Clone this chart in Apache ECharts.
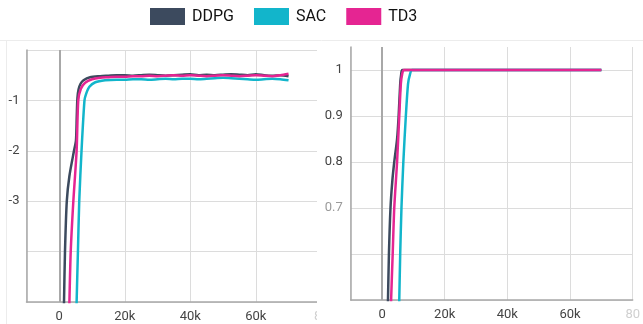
<!DOCTYPE html>
<html>
<head>
<meta charset="utf-8">
<script src="https://cdn.jsdelivr.net/npm/echarts@6/dist/echarts.min.js"></script>
<style>
html,body{margin:0;padding:0;background:#fff;}
#chart{width:643px;height:324px;}
</style>
</head>
<body>
<div id="chart"></div>
<script>
// ---- data ----
const seriesNames = ['DDPG', 'SAC', 'TD3'];
const seriesColors = ['#3c4a5e', '#12b5cb', '#e52592'];

// left panel: episode reward
const ddpgRewardSteps = [1150, 1450, 1750, 2300, 3100, 4500, 5100, 5350, 5550, 5900, 6500, 7400, 9400, 12500, 15000, 17500, 20000, 22500, 25000, 27500, 30000, 32500, 35000, 37500, 40000, 42500, 45000, 47500, 50000, 52500, 55000, 57500, 60000, 62500, 65000, 67500, 70000];
const ddpgRewardValues = [-6, -5, -4, -3, -2.5, -2, -1.8, -1.3, -0.95, -0.78, -0.67, -0.6, -0.54, -0.52, -0.51, -0.5, -0.5, -0.51, -0.5, -0.49, -0.5, -0.51, -0.5, -0.49, -0.48, -0.5, -0.49, -0.5, -0.49, -0.48, -0.49, -0.5, -0.48, -0.5, -0.51, -0.5, -0.52];

const sacRewardSteps = [5000, 5300, 5700, 6100, 6800, 7700, 8200, 9200, 11000, 14000, 17500, 20000, 22500, 25000, 27500, 30000, 32500, 35000, 37500, 40000, 42500, 45000, 47500, 50000, 52500, 55000, 57500, 60000, 62500, 65000, 67500, 70000];
const sacRewardValues = [-6, -5, -4, -3, -2, -1, -0.87, -0.73, -0.64, -0.6, -0.59, -0.59, -0.58, -0.58, -0.59, -0.58, -0.57, -0.58, -0.57, -0.57, -0.58, -0.57, -0.56, -0.55, -0.56, -0.57, -0.58, -0.59, -0.58, -0.57, -0.58, -0.6];

const td3RewardSteps = [2800, 3100, 3500, 4300, 5300, 5800, 6600, 7900, 10000, 12500, 15000, 17500, 20000, 22500, 25000, 27500, 30000, 32500, 35000, 37500, 40000, 42500, 45000, 47500, 50000, 52500, 55000, 57500, 60000, 62500, 65000, 67500, 70000];
const td3RewardValues = [-6, -5, -4, -3, -2, -1, -0.77, -0.65, -0.58, -0.55, -0.54, -0.53, -0.53, -0.52, -0.52, -0.51, -0.52, -0.51, -0.5, -0.51, -0.5, -0.51, -0.52, -0.51, -0.5, -0.51, -0.52, -0.51, -0.5, -0.51, -0.52, -0.5, -0.47];

// right panel: success rate
const ddpgSuccessSteps = [1600, 1900, 2200, 2700, 3300, 3900, 4800, 5300, 5800, 6100, 6500, 70000];
const ddpgSuccessValues = [0.4, 0.5, 0.6, 0.7, 0.76, 0.8, 0.85, 0.9, 0.97, 0.99, 1.0, 1.0];

const sacSuccessSteps = [5200, 5500, 5800, 6200, 6800, 7600, 8300, 8900, 9600, 70000];
const sacSuccessValues = [0.4, 0.5, 0.6, 0.7, 0.8, 0.9, 0.97, 0.99, 1.0, 1.0];

const td3SuccessSteps = [2600, 2900, 3400, 3900, 4800, 5500, 6000, 6400, 7000, 70000];
const td3SuccessValues = [0.4, 0.5, 0.6, 0.7, 0.8, 0.9, 0.97, 0.99, 1.0, 1.0];

// tick labels (the 80k label is cut off at the panel edge in the reference)
const xTickValues = [0, 20000, 40000, 60000, 80000];
const xTickLabels = ['0', '20k', '40k', '60k', '80'];
const rewardTickValues = [-1, -2, -3];
const rewardTickLabels = ['-1', '-2', '-3'];
const successTickValues = [1, 0.9, 0.8, 0.7];
const successTickLabels = ['1', '0.9', '0.8', '0.7'];

// ---- build ----
function pairs(xs, ys) { return xs.map((x, i) => [x, ys[i]]); }

function xLabel(v) {
  const i = xTickValues.indexOf(Math.round(v));
  if (i < 0) return '';
  return i === xTickValues.length - 1 ? '{faint|' + xTickLabels[i] + '}' : xTickLabels[i];
}
function findLabel(values, labels, v) {
  for (let i = 0; i < values.length; i++) if (Math.abs(values[i] - v) < 1e-6) return labels[i];
  return '';
}

const gridLine = { show: true, lineStyle: { color: '#dcdcdc', width: 1 } };
const axisLine = { show: true, onZero: false, lineStyle: { color: '#a8a8a8', width: 1.5 } };
const labelFont = { color: '#444', fontSize: 13, fontFamily: 'Roboto' };

function xAxis(gridIndex) {
  return {
    type: 'value', gridIndex: gridIndex, min: -10000, max: 80000, splitNumber: 5,
    axisLine: axisLine, axisTick: { show: false }, splitLine: gridLine,
    axisLabel: Object.assign({}, labelFont, {
      margin: 8, formatter: xLabel, showMinLabel: true, showMaxLabel: true,
      alignMaxLabel: 'center',
      rich: { faint: { color: '#d0d0d0', fontSize: 13, fontFamily: 'Roboto' } }
    })
  };
}

const zeroMark = {
  silent: true, symbol: ['none', 'none'], animation: false,
  label: { show: false },
  lineStyle: { color: '#a8a8a8', type: 'solid', width: 2 },
  emphasis: { disabled: true },
  data: [{ xAxis: 0 }]
};

function line(name, idx, xi, yi, data, withMark) {
  const s = {
    name: name, type: 'line', xAxisIndex: xi, yAxisIndex: yi,
    data: data, showSymbol: false, symbol: 'none', smooth: 0.25,
    lineStyle: { color: seriesColors[idx], width: 2.5 },
    itemStyle: { color: seriesColors[idx] },
    clip: true, z: 3 + idx, animation: false
  };
  if (withMark) s.markLine = zeroMark;
  return s;
}

const option = {
  animation: false,
  backgroundColor: '#fff',
  legend: {
    left: 145, top: 3, itemWidth: 35, itemHeight: 17, itemGap: 20,
    icon: 'rect',
    data: seriesNames,
    textStyle: { fontSize: 16, color: '#111', fontFamily: 'Roboto', padding: [0, 0, 0, 2] }
  },
  grid: [
    { left: 26.5, top: 50, width: 294.8, height: 252 },
    { left: 350.7, top: 47, width: 289.3, height: 253 }
  ],
  xAxis: [xAxis(0), xAxis(1)],
  yAxis: [
    {
      type: 'value', gridIndex: 0, min: -5, max: 0, interval: 1,
      axisLine: axisLine, axisTick: { show: false }, splitLine: gridLine,
      axisLabel: Object.assign({}, labelFont, { margin: 7, formatter: v => findLabel(rewardTickValues, rewardTickLabels, v) })
    },
    {
      type: 'value', gridIndex: 1, min: 0.5, max: 1.05, interval: 0.1,
      axisLine: axisLine, axisTick: { show: false },
      splitLine: Object.assign({ showMaxLine: false }, gridLine),
      axisLabel: Object.assign({}, labelFont, {
        margin: 8, showMaxLabel: false,
        formatter: v => {
          const t = findLabel(successTickValues, successTickLabels, Math.round(v * 100) / 100);
          return t === '0.7' ? '{light|0.7}' : t;
        },
        rich: { light: { color: '#9a9a9a', fontSize: 13, fontFamily: 'Roboto' } }
      })
    }
  ],
  graphic: [
    { type: 'line', shape: { x1: 0, y1: 40.5, x2: 643, y2: 40.5 }, style: { stroke: '#ececec', lineWidth: 1 }, z: 0 },
    { type: 'line', shape: { x1: 6.5, y1: 40, x2: 6.5, y2: 324 }, style: { stroke: '#ececec', lineWidth: 1 }, z: 0 },
    { type: 'rect', shape: { x: 317, y: 44, width: 5.5, height: 261 }, style: { fill: '#fff' }, z: 100 },
    { type: 'rect', shape: { x: 317, y: 305, width: 17, height: 19 }, style: { fill: '#fff' }, z: 100 }
  ],
  series: [
    line('DDPG', 0, 0, 0, pairs(ddpgRewardSteps, ddpgRewardValues), true),
    line('SAC', 1, 0, 0, pairs(sacRewardSteps, sacRewardValues), false),
    line('TD3', 2, 0, 0, pairs(td3RewardSteps, td3RewardValues), false),
    line('DDPG', 0, 1, 1, pairs(ddpgSuccessSteps, ddpgSuccessValues), true),
    line('SAC', 1, 1, 1, pairs(sacSuccessSteps, sacSuccessValues), false),
    line('TD3', 2, 1, 1, pairs(td3SuccessSteps, td3SuccessValues), false)
  ]
};

const chart = echarts.init(document.getElementById('chart'), null, { renderer: 'canvas' });
chart.setOption(option);
</script>
</body>
</html>
